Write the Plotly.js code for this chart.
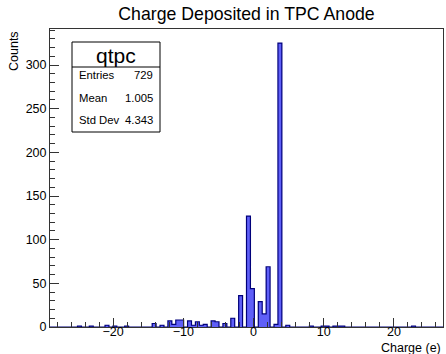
<!DOCTYPE html>
<html><head><meta charset="utf-8">
<script src="https://cdn.plot.ly/plotly-3.0.1.min.js"></script>
<style>html,body{margin:0;padding:0;background:#fff}</style>
</head><body><div id="chart" style="width:446px;height:354px"></div>
<script>
// Histogram binning (ROOT TH1: 100 bins from -29 to 27)
const binLow = -29;
const binWidth = 0.56;
const counts = [
  0,0,0,0,0,0,0,1,0,0,
  1,0,0,0,2,0,1,0,0,1,
  0,0,0,0,0,0,4,0,2,0,
  7,3,8,8,0,7,2,6,2,3,
  0,7,6,0,4,0,10,0,36,0,
  127,44,0,29,15,69,0,3,325,0,
  2,0,0,0,0,0,1,0,0,1,
  1,0,1,1,1,0,0,0,0,0,
  0,0,0,0,0,0,0,0,0,0,
  0,0,1,0,0,0,0,0,0,0
];
const statsLabels = ["Entries", "Mean", "Std Dev"];
const statsValues = ["729", "1.005", "4.343"];
const histName = "qtpc";

const nBins = counts.length;
const edges = counts.map((_, i) => binLow + i * binWidth).concat([binLow + nBins * binWidth]);
const centers = counts.map((_, i) => binLow + (i + 0.5) * binWidth);

const sx = [edges[0]], sy = [0];
counts.forEach((c, i) => { sx.push(edges[i]); sy.push(c); });
sx.push(edges[nBins]); sy.push(counts[nBins - 1]);
sx.push(edges[nBins]); sy.push(0);

const FONT = "Liberation Sans, Arial, Helvetica, sans-serif";
const fill = "#5f5ff8";
const lineCol = "#00007a";
const frameCol = "#333";

const traces = [
  {type: "bar", x: centers, y: counts, width: binWidth, marker: {color: fill, line: {width: 0}}, hoverinfo: "skip"},
  {type: "scatter", mode: "lines", x: sx, y: sy, line: {shape: "hv", color: lineCol, width: 1.2}, hoverinfo: "skip"}
];

const ymax = Math.max(...counts) * 1.05;

// plot area pixel geometry
const L = 50, R = 443, T = 29, B = 327, W = 446, H = 354;
const px = x => (x - L) / (R - L);
const py = y => (B - y) / (B - T);

const box = {x0: px(72), x1: px(160), y0: py(132), y1: py(42), div: py(67)};
const rowY = [75, 98, 120];

const annotations = [
  {text: "Counts", xref: "paper", yref: "paper", x: px(14), y: 1, xanchor: "center", yanchor: "top", textangle: -90, showarrow: false, font: {family: FONT, size: 12.5, color: "#000"}},
  {text: "Charge (e)", xref: "paper", yref: "paper", x: 1, y: py(347.5), xanchor: "right", yanchor: "middle", showarrow: false, font: {family: FONT, size: 12.5, color: "#000"}},
  {text: histName, xref: "paper", yref: "paper", x: (box.x0 + box.x1) / 2, y: py(55), xanchor: "center", yanchor: "middle", showarrow: false, font: {family: FONT, size: 21, color: "#000"}}
];
statsLabels.forEach((lab, i) => {
  annotations.push({text: lab, xref: "paper", yref: "paper", x: px(77), y: py(rowY[i]), xanchor: "left", yanchor: "middle", showarrow: false, font: {family: FONT, size: 11.3, color: "#000"}});
  annotations.push({text: statsValues[i], xref: "paper", yref: "paper", x: px(155), y: py(rowY[i]), xanchor: "right", yanchor: "middle", showarrow: false, font: {family: FONT, size: 11.3, color: "#000"}});
});

const layout = {
  width: W, height: H,
  margin: {l: L, r: W - R, t: T, b: H - B, pad: 0},
  paper_bgcolor: "#fff", plot_bgcolor: "#fff",
  showlegend: false, bargap: 0,
  title: {text: "Charge Deposited in TPC Anode", x: 0.5, xref: "paper", y: 1 - 14 / H, yref: "container", yanchor: "middle", font: {family: FONT, size: 17.7, color: "#000"}},
  xaxis: {range: [binLow, binLow + nBins * binWidth], dtick: 10, tick0: 0, ticks: "inside", ticklen: 9, tickcolor: frameCol, tickwidth: 1,
          minor: {dtick: 2, tick0: 0, ticks: "inside", ticklen: 5, tickcolor: frameCol},
          showline: true, linecolor: frameCol, linewidth: 1, mirror: true, showgrid: false, zeroline: false,
          ticklabelstandoff: -7,
          tickfont: {family: FONT, size: 12.5, color: "#000"}},
  yaxis: {range: [0, ymax], dtick: 50, tick0: 0, ticks: "inside", ticklen: 9, tickcolor: frameCol, tickwidth: 1,
          minor: {dtick: 10, tick0: 0, ticks: "inside", ticklen: 5, tickcolor: frameCol},
          showline: true, linecolor: frameCol, linewidth: 1, mirror: true, showgrid: false, zeroline: false,
          tickfont: {family: FONT, size: 12.5, color: "#000"}},
  shapes: [
    {type: "rect", xref: "paper", yref: "paper", x0: box.x0, x1: box.x1, y0: box.y0, y1: box.y1, line: {color: "#000", width: 1}, fillcolor: "#fff"},
    {type: "line", xref: "paper", yref: "paper", x0: box.x0, x1: box.x1, y0: box.div, y1: box.div, line: {color: "#000", width: 1}}
  ],
  annotations: annotations
};

Plotly.newPlot("chart", traces, layout, {staticPlot: true, displayModeBar: false});
</script>
</body></html>
